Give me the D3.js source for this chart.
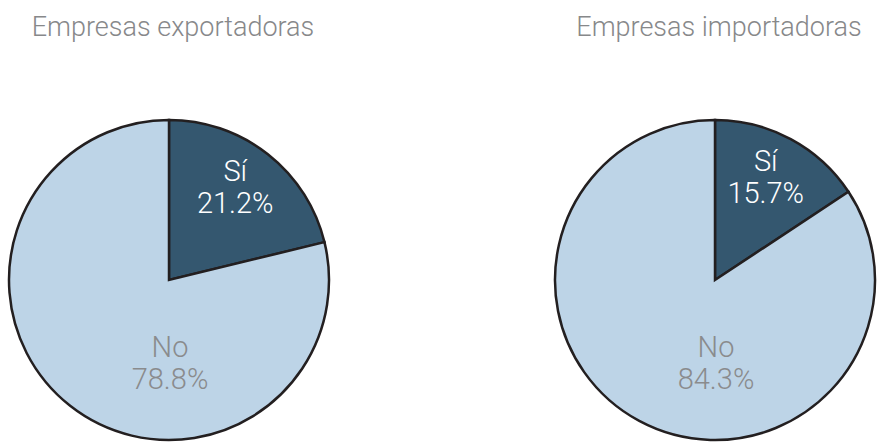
<!DOCTYPE html>
<html>
<head>
<meta charset="utf-8">
<script src="https://cdn.jsdelivr.net/npm/d3@7"></script>
<style>
  body { margin: 0; background: #fff; }
  svg { display: block; }
</style>
</head>
<body>
<script>
'use strict';

const W = 882, H = 442;

// data
const titles = ["Empresas exportadoras", "Empresas importadoras"];
const categories = ["Sí", "No"];
const exportValues = [21.2, 78.8];
const importValues = [15.7, 84.3];

const colors = { "Sí": "#34576f", "No": "#bdd4e7" };
const labelColors = { "Sí": "#ffffff", "No": "#8a8b8d" };

let svg = d3.select("body").append("svg")
    .attr("width", W)
    .attr("height", H)
    .style("font-family", "Roboto, 'Liberation Sans', sans-serif")
    .style("font-weight", 300);

let radius = 160;
let centers = [[169, 280], [715, 280]];

let pie = d3.pie().sort(null).value(d => d.value);
let arc = d3.arc().innerRadius(0).outerRadius(radius);
let labelArc = d3.arc().innerRadius(radius * 0.67).outerRadius(radius * 0.67);

[exportValues, importValues].forEach((vals, k) => {
    let data = categories.map((c, i) => ({ cat: c, value: vals[i] }));
    let g = svg.append("g")
        .attr("transform", "translate(" + centers[k][0] + "," + centers[k][1] + ")");

    svg.append("text")
        .attr("x", centers[k][0] + 4)
        .attr("y", 36)
        .attr("text-anchor", "middle")
        .attr("fill", "#87888a")
        .style("font-size", "27px")
        .text(titles[k]);

    let arcs = pie(data);
    g.selectAll("path")
        .data(arcs)
        .enter().append("path")
        .attr("d", arc)
        .attr("fill", d => colors[d.data.cat])
        .attr("stroke", "#231f20")
        .attr("stroke-width", 2.5)
        .attr("stroke-linejoin", "miter");

    arcs.forEach(d => {
        let pos;
        if (d.data.cat === "Sí") {
            pos = labelArc.centroid(d);
            pos = [pos[0], pos[1] - 2];
        } else {
            // the "No" label sits straight below the centre
            pos = [1, 90];
        }
        let t = g.append("text")
            .attr("text-anchor", "middle")
            .attr("fill", labelColors[d.data.cat])
            .style("font-size", "29px");
        t.append("tspan")
            .attr("x", pos[0])
            .attr("y", pos[1] - 13)
            .text(d.data.cat);
        t.append("tspan")
            .attr("x", pos[0])
            .attr("y", pos[1] + 19)
            .text(d.data.value.toFixed(1) + "%");
    });
});
</script>
</body>
</html>
